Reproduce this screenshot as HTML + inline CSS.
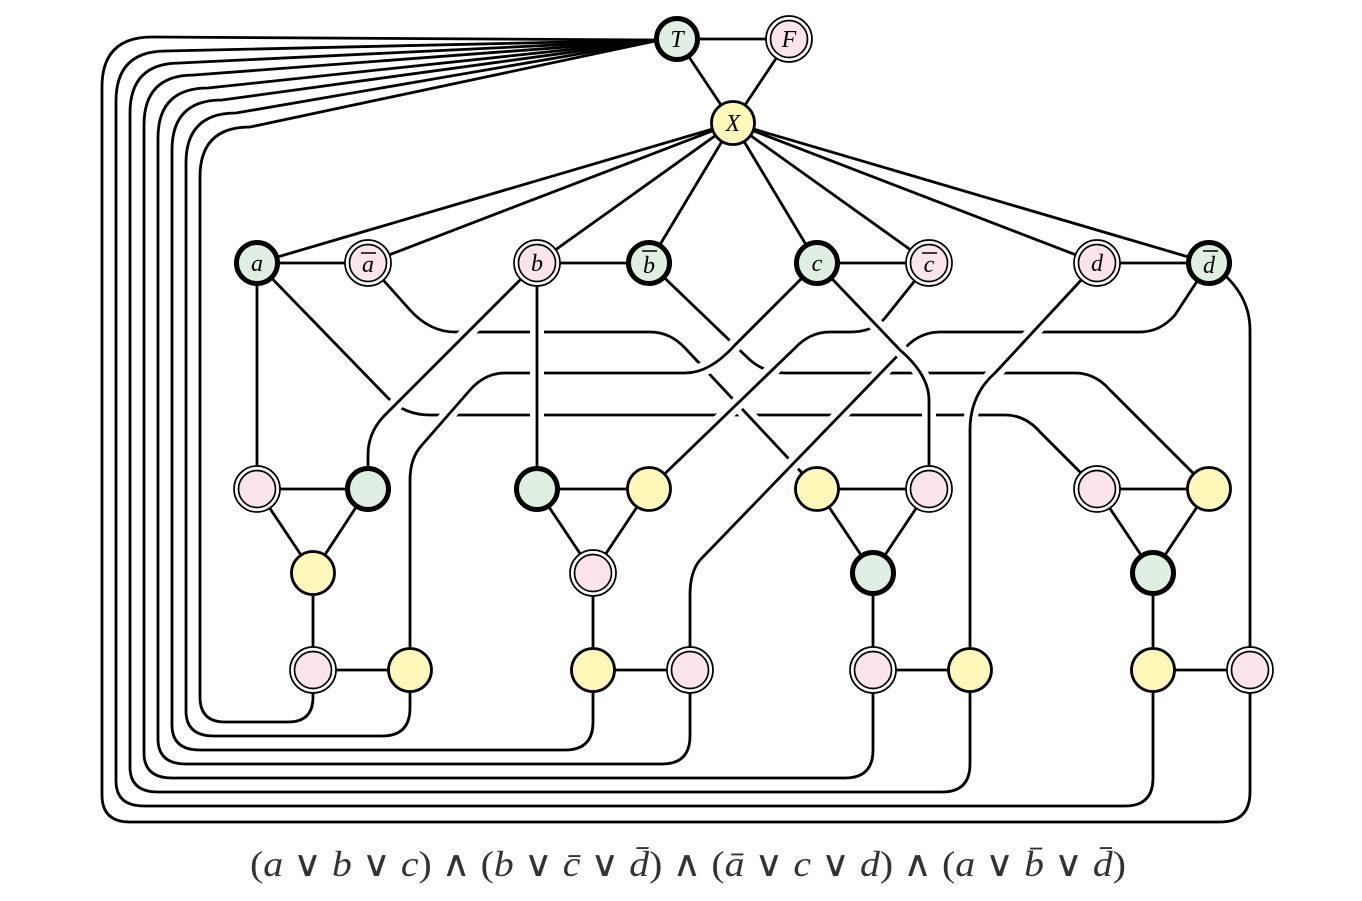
<!DOCTYPE html>
<html><head><meta charset="utf-8"><style>
html,body{margin:0;padding:0;background:#fff;width:1362px;height:901px;overflow:hidden}
svg{display:block}
text{font-family:"Liberation Serif",serif;font-style:italic}
</style></head><body>
<svg width="1362" height="901" viewBox="0 0 1362 901" xmlns="http://www.w3.org/2000/svg">
<g fill="none" stroke="#000" stroke-width="2.8" stroke-linecap="butt">
<path d="M200,697 V177 Q200,127 250,127 L660,40"/>
<path d="M186,711 V163 Q186,113 236,113 L660,40"/>
<path d="M172,725 V150 Q172,100 222,100 L660,40"/>
<path d="M158,739 V138 Q158,88 208,88 L660,40"/>
<path d="M144,753 V125 Q144,75 194,75 L660,40"/>
<path d="M130,767 V113 Q130,63 180,63 L660,40"/>
<path d="M116,781 V101 Q116,51 166,51 L660,40"/>
<path d="M102,795 V87 Q102,37 152,37 L660,40"/>
<path d="M313,690 V697 Q313,722 288,722 H225 Q200,722 200,697"/>
<path d="M410,690 V708 Q410,736 382,736 H214 Q186,736 186,711"/>
<path d="M593,690 V722 Q593,750 565,750 H200 Q172,750 172,725"/>
<path d="M690,690 V736 Q690,764 662,764 H186 Q158,764 158,739"/>
<path d="M873,690 V750 Q873,778 845,778 H172 Q144,778 144,753"/>
<path d="M970,690 V764 Q970,792 942,792 H158 Q130,792 130,767"/>
<path d="M1153,690 V778 Q1153,806 1125,806 H144 Q116,806 116,781"/>
<path d="M1250,690 V792 Q1250,822 1220,822 H130 Q102,822 102,795"/>
<path d="M677,39 H789 M677,39 L733,123 M789,39 L733,123"/>
<path d="M733,123 L257,263 M733,123 L368,263 M733,123 L537,263 M733,123 L649,263 M733,123 L817,263 M733,123 L929,263 M733,123 L1097,263 M733,123 L1209,263"/>
<path d="M257,263 H368 M537,263 H649 M817,263 H929 M1097,263 H1209"/>
<path d="M257,489 H368 L313,573 L257,489 M313,573 V670 H410"/>
<path d="M537,489 H649 L593,573 L537,489 M593,573 V670 H690"/>
<path d="M817,489 H929 L873,573 L817,489 M873,573 V670 H970"/>
<path d="M1097,489 H1209 L1153,573 L1097,489 M1153,573 V670 H1250"/>
<path d="M257,263 V489"/>
<path d="M1209,263 Q1250,290 1250,330 V670"/>
</g>
<g fill="none" stroke-linecap="butt">
<defs>
<path id="pa" d="M257,263 L388,398 Q405,415 430,415 H1005 Q1025,415 1040,432 L1097,489"/>
<path id="pab" d="M368,263 L410,310 Q430,332 455,332 H650 Q670,332 685,348 L817,489"/>
<path id="pbb" d="M649,263 L750,360 Q765,373 785,373 H1075 Q1095,373 1110,390 L1209,489"/>
<path id="pc1" d="M817,263 L735,345 Q710,373 685,373 H505 Q485,373 470,390 L422,445 Q410,458 410,480 V670"/>
<path id="pcb" d="M929,263 L885,318 Q873,332 850,332 H830 Q810,332 795,348 L649,489"/>
<path id="pdb" d="M1209,263 L1175,315 Q1160,332 1140,332 H940 Q920,332 905,348 L700,560 Q690,572 690,595 V670"/>
<path id="pb1" d="M537,263 L385,415 Q368,432 368,455 V489"/>
<path id="pb2" d="M537,263 V489"/>
<path id="pc3" d="M817,263 L900,350 Q929,375 929,400 V489"/>
<path id="pd" d="M1097,263 L995,373 Q970,395 970,430 V670"/>
</defs>
<g stroke="#fff" stroke-width="14"><use href="#pa"/></g><g stroke="#000" stroke-width="2.8"><use href="#pa"/></g>
<g stroke="#fff" stroke-width="14"><use href="#pab"/></g><g stroke="#000" stroke-width="2.8"><use href="#pab"/></g>
<g stroke="#fff" stroke-width="14"><use href="#pbb"/></g><g stroke="#000" stroke-width="2.8"><use href="#pbb"/></g>
<g stroke="#fff" stroke-width="14"><use href="#pc1"/></g><g stroke="#000" stroke-width="2.8"><use href="#pc1"/></g>
<g stroke="#fff" stroke-width="14"><use href="#pcb"/></g><g stroke="#000" stroke-width="2.8"><use href="#pcb"/></g>
<g stroke="#fff" stroke-width="14"><use href="#pdb"/></g><g stroke="#000" stroke-width="2.8"><use href="#pdb"/></g>
<g stroke="#fff" stroke-width="14"><use href="#pb1"/></g><g stroke="#000" stroke-width="2.8"><use href="#pb1"/></g>
<g stroke="#fff" stroke-width="14"><use href="#pb2"/></g><g stroke="#000" stroke-width="2.8"><use href="#pb2"/></g>
<g stroke="#fff" stroke-width="14"><use href="#pc3"/></g><g stroke="#000" stroke-width="2.8"><use href="#pc3"/></g>
<g stroke="#fff" stroke-width="14"><use href="#pd"/></g><g stroke="#000" stroke-width="2.8"><use href="#pd"/></g>
</g>
<g>
<defs>
<g id="G"><circle r="20.5" fill="#dff0e3" stroke="#000" stroke-width="5"/></g>
<g id="P"><circle r="23" fill="#fff" stroke="#000" stroke-width="1.7"/><circle r="18.5" fill="#fce4ec" stroke="#000" stroke-width="1.7"/></g>
<g id="Y"><circle r="21.5" fill="#fff8b8" stroke="#000" stroke-width="2.8"/></g>
</defs>
<use href="#G" x="677" y="39"/><use href="#P" x="789" y="39"/><use href="#Y" x="733" y="123"/>
<use href="#G" x="257" y="263"/><use href="#P" x="368" y="263"/><use href="#P" x="537" y="263"/><use href="#G" x="649" y="263"/>
<use href="#G" x="817" y="263"/><use href="#P" x="929" y="263"/><use href="#P" x="1097" y="263"/><use href="#G" x="1209" y="263"/>
<use href="#P" x="257" y="489"/><use href="#G" x="368" y="489"/><use href="#Y" x="313" y="573"/><use href="#P" x="313" y="670"/><use href="#Y" x="410" y="670"/>
<use href="#G" x="537" y="489"/><use href="#Y" x="649" y="489"/><use href="#P" x="593" y="573"/><use href="#Y" x="593" y="670"/><use href="#P" x="690" y="670"/>
<use href="#Y" x="817" y="489"/><use href="#P" x="929" y="489"/><use href="#G" x="873" y="573"/><use href="#P" x="873" y="670"/><use href="#Y" x="970" y="670"/>
<use href="#P" x="1097" y="489"/><use href="#Y" x="1209" y="489"/><use href="#G" x="1153" y="573"/><use href="#Y" x="1153" y="670"/><use href="#P" x="1250" y="670"/>
</g>
<g font-size="24" text-anchor="middle" fill="#000">
<text x="677" y="47">T</text><text x="789" y="47">F</text><text x="733" y="131">X</text>
<text x="257" y="271">a</text><text x="368" y="272">a</text><text x="537" y="271">b</text><text x="649" y="273">b</text>
<text x="817" y="271">c</text><text x="929" y="272">c</text><text x="1097" y="271">d</text><text x="1209" y="273">d</text>
</g>
<g stroke="#000" stroke-width="1.5">
<line x1="361" y1="253" x2="376" y2="253"/><line x1="642" y1="251" x2="657" y2="251"/><line x1="922" y1="253" x2="937" y2="253"/><line x1="1203" y1="251" x2="1218" y2="251"/>
</g>
<text x="250" y="876" font-size="36" fill="#333" style="font-style:normal" textLength="876" lengthAdjust="spacingAndGlyphs">(<tspan font-style="italic">a</tspan> ∨ <tspan font-style="italic">b</tspan> ∨ <tspan font-style="italic">c</tspan>) ∧ (<tspan font-style="italic">b</tspan> ∨ <tspan font-style="italic">c̄</tspan> ∨ <tspan font-style="italic">d̄</tspan>) ∧ (<tspan font-style="italic">ā</tspan> ∨ <tspan font-style="italic">c</tspan> ∨ <tspan font-style="italic">d</tspan>) ∧ (<tspan font-style="italic">a</tspan> ∨ <tspan font-style="italic">b̄</tspan> ∨ <tspan font-style="italic">d̄</tspan>)</text>
</svg>
</body></html>
